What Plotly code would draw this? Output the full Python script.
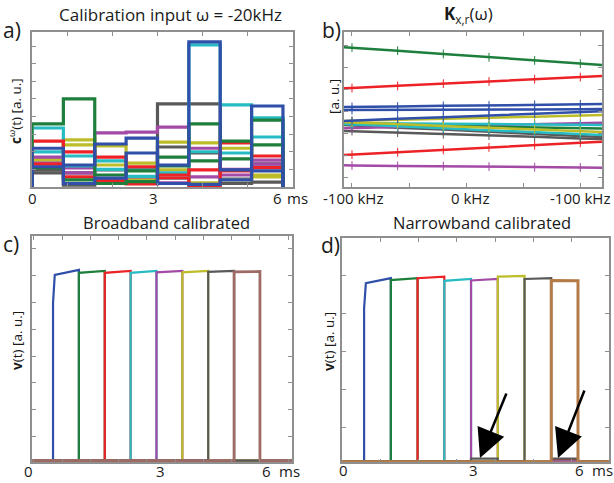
import plotly.graph_objects as go

W, H = 614, 483
def px(x): return x / W
def py(y): return 1 - y / H

FONT = "Open Sans"
BLUE, GREEN, RED, CYAN = "#2F4FA8", "#1E7F3C", "#EC2227", "#27BCC4"
MAGENTA, YELLOW, GRAY = "#A24AA6", "#BDBD2A", "#595959"
BROWN_C, BROWN_D = "#9E6A66", "#B27B48"

# ---------------- panel a: calibration input (8 time slots, 0.75 ms each)
slot_edges = [0, 0.75, 1.5, 2.25, 3.0, 3.75, 4.5, 5.25, 6.0]
a_gray1 = [0.97, 0.80, 0.97, 0.40, 4.72, 4.72, 0.45, 1.31]
a_gray2 = [0.80, 0.11, 0.28, 0.30, 2.27, 1.93, 0.20, 0.28]
a_yellow1 = [1.65, 2.67, 1.25, 1.36, 2.55, 2.50, 2.20, 0.68]
a_yellow2 = [1.53, 2.39, 2.33, 0.45, 0.97, 0.23, 0.40, 0.57]
a_magenta1 = [1.70, 1.08, 3.07, 3.12, 3.40, 2.20, 0.68, 1.53]
a_magenta2 = [1.36, 0.80, 0.45, 0.57, 0.23, 0.57, 1.00, 1.30]
a_cyan1 = [3.35, 1.76, 1.48, 1.00, 0.80, 8.07, 4.66, 3.92]
a_cyan2 = [1.99, 1.20, 1.00, 0.60, 0.50, 2.00, 1.93, 2.84]
a_red1 = [2.61, 1.99, 1.70, 1.14, 0.68, 0.97, 2.50, 1.76]
a_red2 = [1.30, 0.57, 0.35, 0.17, 0.51, 0.05, 0.91, 1.10]
a_green1 = [3.58, 5.00, 0.68, 0.91, 1.70, 3.58, 2.61, 3.80]
a_green2 = [1.10, 0.40, 0.20, 0.30, 1.20, 1.48, 1.60, 2.39]
a_blue2 = [1.15, 0.20, 0.50, 1.93, 0.20, 0.15, 0.40, 0.91]
a_blue1 = [2.20, 1.25, 2.44, 2.78, 1.25, 8.24, 0.97, 4.60]

# ---------------- panel b: K(omega)
freq = [-107, -100, -60, -20, 20, 60, 100, 119]
b_green1 = [6.36, 6.34, 6.20, 6.05, 5.90, 5.76, 5.61, 5.55]
b_red1 = [4.49, 4.50, 4.60, 4.70, 4.80, 4.90, 5.00, 5.05]
b_blue1 = [3.64, 3.64, 3.66, 3.69, 3.71, 3.74, 3.76, 3.77]
b_blue2 = [3.50, 3.50, 3.50, 3.51, 3.52, 3.53, 3.54, 3.55]
b_blue3 = [3.00, 3.01, 3.10, 3.17, 3.25, 3.34, 3.42, 3.45]
b_yellow1 = [3.00, 3.01, 3.05, 3.10, 3.15, 3.20, 3.25, 3.27]
b_yellow2 = [2.95, 2.94, 2.86, 2.78, 2.70, 2.62, 2.54, 2.50]
b_cyan1 = [2.91, 2.91, 2.89, 2.88, 2.86, 2.84, 2.83, 2.82]
b_cyan2 = [2.86, 2.85, 2.76, 2.67, 2.58, 2.50, 2.40, 2.36]
b_green2 = [2.86, 2.86, 2.82, 2.79, 2.75, 2.71, 2.68, 2.66]
b_magenta1 = [2.67, 2.68, 2.72, 2.77, 2.81, 2.85, 2.90, 2.92]
b_gray1 = [2.82, 2.80, 2.70, 2.61, 2.51, 2.41, 2.32, 2.27]
b_gray2 = [2.55, 2.54, 2.47, 2.40, 2.34, 2.28, 2.21, 2.18]
b_red2 = [1.45, 1.47, 1.58, 1.69, 1.80, 1.90, 2.01, 2.06]
b_magenta2 = [0.99, 0.98, 0.96, 0.95, 0.93, 0.90, 0.89, 0.88]
b_err = [0, 0.2, 0.2, 0.2, 0.2, 0.2, 0.2, 0]

# ---------------- panels c, d: calibrated pulses
pulse_start = [0, 0.75, 1.5, 2.25, 3.0, 3.75, 4.5, 5.25]
pulse_len = 0.75
c_level_start = [6.90, 6.98, 6.98, 6.98, 7.00, 7.00, 7.02, 7.02]
c_level_end = [7.09, 7.05, 7.05, 7.05, 7.05, 7.05, 7.05, 7.03]
c_blue_foot = 5.86
d_level_start = [4.71, 4.79, 4.84, 4.77, 4.78, 4.88, 4.82, 4.78]
d_level_end = [4.84, 4.84, 4.88, 4.82, 4.82, 4.90, 4.84, 4.77]
d_blue_foot = 4.05
d_gray_leak = [0, 0, 0, 0, 0.08, 0, 0, 0.08]
d_red_leak = [0, 0, 0, 0, 0, 0, 0, 0.05]
d_yellow_leak = [0, 0, 0, 0, 0, 0, 0, -0.03]

fig = go.Figure()

# panel a traces
a_series = [(a_gray1, GRAY), (a_gray2, GRAY), (a_yellow1, YELLOW), (a_yellow2, YELLOW),
            (a_magenta1, MAGENTA), (a_magenta2, MAGENTA), (a_cyan1, CYAN), (a_cyan2, CYAN),
            (a_red1, RED), (a_red2, RED), (a_green1, GREEN), (a_green2, GREEN),
            (a_blue2, BLUE), (a_blue1, BLUE)]
for vals, col in a_series:
    xs = [slot_edges[0]] + slot_edges
    ys = [0] + vals + [0]
    fig.add_trace(go.Scatter(x=xs, y=ys, mode="lines", line=dict(color=col, width=3.2, shape="hv"),
                             xaxis="x", yaxis="y", showlegend=False, hoverinfo="skip"))

# panel b traces
b_series = [(b_magenta2, MAGENTA), (b_red2, RED), (b_gray2, GRAY), (b_gray1, GRAY),
            (b_magenta1, MAGENTA), (b_green2, GREEN), (b_cyan2, CYAN), (b_cyan1, CYAN),
            (b_yellow2, YELLOW), (b_yellow1, YELLOW), (b_blue3, BLUE), (b_blue2, BLUE),
            (b_blue1, BLUE), (b_red1, RED), (b_green1, GREEN)]
for vals, col in b_series:
    fig.add_trace(go.Scatter(x=freq, y=vals, mode="lines", line=dict(color=col, width=2.5),
                             error_y=dict(type="data", array=b_err, width=0, thickness=1, color=col),
                             xaxis="x2", yaxis="y2", showlegend=False, hoverinfo="skip"))


def pulse_xy(k, lstart, lend, foot, leak, xmin, xmax):
    xs, ys = [xmin], [0]
    for j in range(8):
        s = pulse_start[j]
        e = s + pulse_len
        if j == k:
            if foot is not None:
                xs += [s, s, s + 0.05, e, e]
                ys += [0, foot, lstart[j], lend[j], 0]
            else:
                xs += [s, s, e, e]
                ys += [0, lstart[j], lend[j], 0]
        elif leak is not None and leak[j] != 0:
            xs += [s, s, e, e]
            ys += [0, leak[j], leak[j], 0]
    xs.append(xmax)
    ys.append(0)
    return xs, ys


c_colors = [BLUE, GREEN, RED, CYAN, MAGENTA, YELLOW, GRAY, BROWN_C]
for k, col in enumerate(c_colors):
    xs, ys = pulse_xy(k, c_level_start, c_level_end, c_blue_foot if k == 0 else None, None, -0.7, 7.0)
    fig.add_trace(go.Scatter(x=xs, y=ys, mode="lines", line=dict(color=col, width=2.2 if k < 7 else 2.8),
                             xaxis="x3", yaxis="y3", showlegend=False, hoverinfo="skip"))

d_colors = [BLUE, GREEN, RED, CYAN, MAGENTA, YELLOW, GRAY, BROWN_D]
d_leaks = [None, None, d_red_leak, None, None, d_yellow_leak, d_gray_leak, None]
for k, col in enumerate(d_colors):
    xs, ys = pulse_xy(k, d_level_start, d_level_end, d_blue_foot if k == 0 else None, d_leaks[k], -0.7, 7.0)
    fig.add_trace(go.Scatter(x=xs, y=ys, mode="lines", line=dict(color=col, width=2.2 if k < 7 else 3),
                             xaxis="x4", yaxis="y4", showlegend=False, hoverinfo="skip"))


def axis(domain, rng, anchor, tick0, dtick):
    return dict(domain=domain, range=rng, anchor=anchor, showgrid=False, zeroline=False,
                showline=True, linecolor="#8f8f8f", linewidth=1.5, mirror="ticks",
                ticks="inside", ticklen=4, tickwidth=1, tickcolor="#8f8f8f",
                tick0=tick0, dtick=dtick, showticklabels=False, fixedrange=True)


fig.update_layout(
    width=W, height=H, margin=dict(l=0, r=0, t=0, b=0),
    paper_bgcolor="white", plot_bgcolor="white", showlegend=False,
    font=dict(family=FONT, color="#1a1a1a"),
    xaxis=axis([px(32), px(293)], [0, 6.24], "y", 0.84, 1.076),
    yaxis=axis([py(187), py(32)], [0, 8.8], "x", 0, 1),
    xaxis2=axis([px(344), px(602)], [-107, 119], "y2", -100, 50),
    yaxis2=axis([py(187), py(32)], [0, 7.05], "x2", 0.45, 1),
    xaxis3=axis([px(32), px(292)], [-0.61, 6.93], "y3", 0.26, 0.82),
    yaxis3=axis([py(462.3), py(236)], [-0.06, 8.35], "x3", -0.11, 1),
    xaxis4=axis([px(342), px(609)], [-0.62, 6.87], "y4", 0.45, 1.074),
    yaxis4=axis([py(462.3), py(238)], [-0.016, 5.9], "x4", -0.09, 1),
)

ann = []
def text(x, y, s, size, angle=0, xanchor="center"):
    ann.append(dict(x=px(x), y=py(y), xref="paper", yref="paper", text=s, showarrow=False,
                    font=dict(size=size, family=FONT, color="#1a1a1a"), textangle=angle,
                    xanchor=xanchor, yanchor="middle"))

# titles
text(170, 15, "Calibration input ω = -20kHz", 17)
text(468, 15, "<b>K</b><sub>x,r</sub>(ω)", 17)
text(166, 222, "Broadband calibrated", 16.5)
text(482, 222, "Narrowband calibrated", 16.5)
# panel letters
text(1, 30, "a)", 21, xanchor="left")
text(320, 30, "b)", 21, xanchor="left")
text(1, 244, "c)", 21, xanchor="left")
text(319, 245, "d)", 21, xanchor="left")
# y titles
text(15, 111, "<b>c</b><sup>ω</sup>(t) [a. u.]", 13.5, angle=-90)
text(334, 97, "[a. u.]", 13.5, angle=-90)
text(17, 341, "<b>v</b>(t) [a. u.]", 13.5, angle=-90)
text(329, 342, "<b>v</b>(t) [a. u.]", 13.5, angle=-90)
# tick labels
text(32, 198, "0", 15)
text(153, 198, "3", 15)
text(277, 198, "6", 15)
text(297, 198, "ms", 15)
text(353, 198, "-100 kHz", 15)
text(470, 198, "0 kHz", 15)
text(580, 198, "-100 kHz", 15)
text(28, 471, "0", 15)
text(160, 471, "3", 15)
text(266, 471, "6", 15)
text(289, 471, "ms", 15)
text(343, 470, "0", 15)
text(473, 470, "3", 15)
text(579, 470, "6", 15)
text(602, 470, "ms", 15)

# arrows in panel d
for tipx, tipy, dx, dy in [(480, 458, 27, -66), (558, 458, 27, -69)]:
    ann.append(dict(x=px(tipx), y=py(tipy), xref="paper", yref="paper", ax=dx, ay=dy,
                    axref="pixel", ayref="pixel", showarrow=True, arrowhead=2, arrowsize=2.3,
                    arrowwidth=2.5, arrowcolor="black", text=""))

fig.update_layout(annotations=ann)
fig.write_html("out.html", config={"displayModeBar": False},
               post_script="document.body.style.margin='0';document.body.style.overflow='hidden';")
